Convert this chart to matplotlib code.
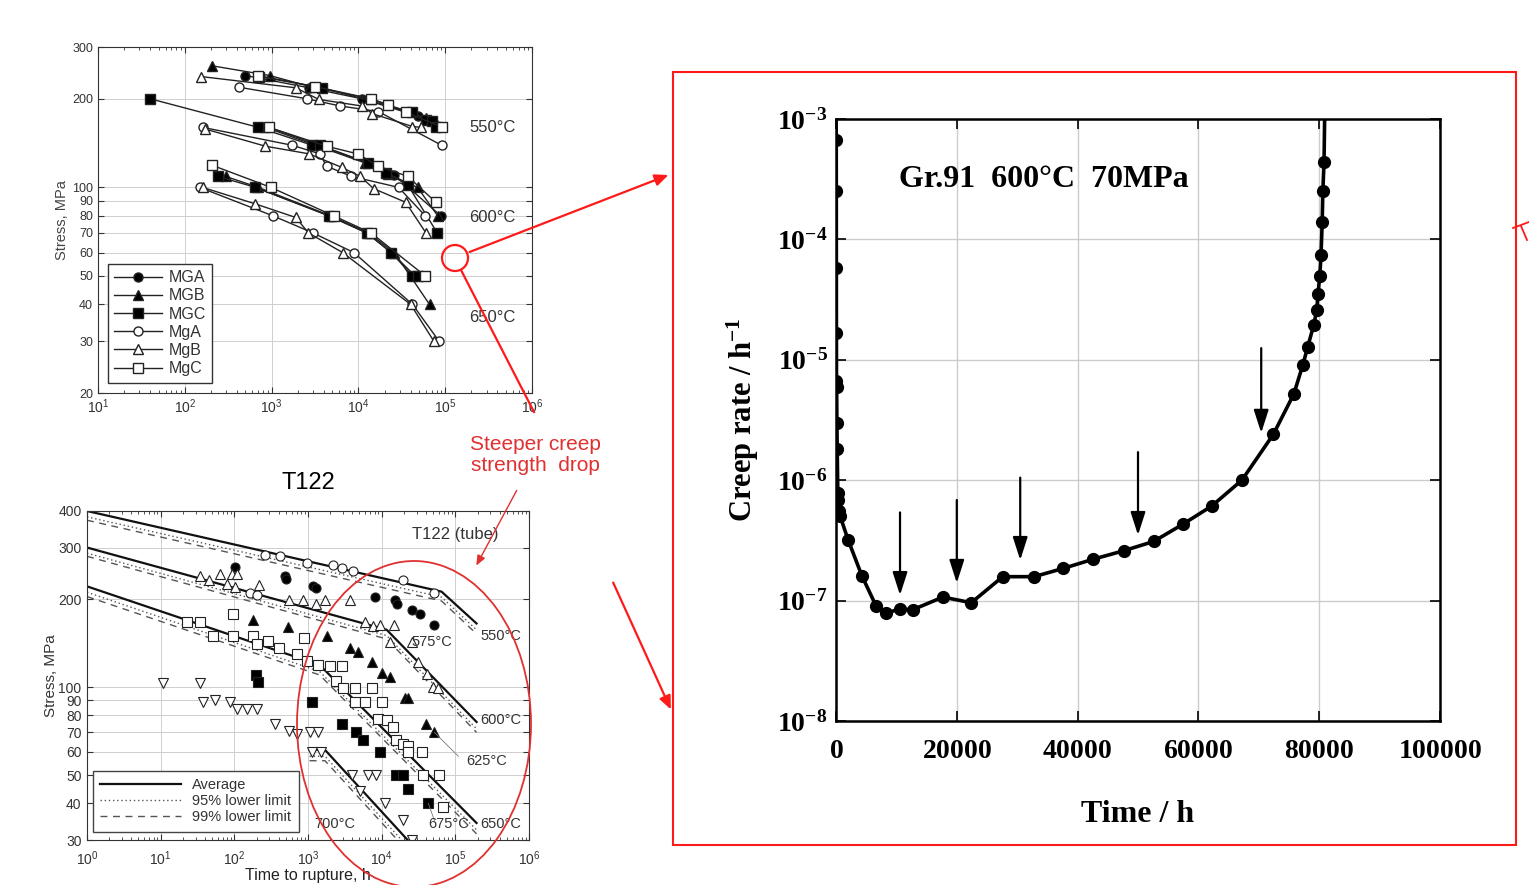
import numpy as np
import matplotlib
matplotlib.use("Agg")
from matplotlib import pyplot as plt
from matplotlib.lines import Line2D
from matplotlib.patches import Rectangle, Ellipse, FancyArrowPatch
from matplotlib.ticker import LogLocator, NullFormatter

plt.rcParams['font.family'] = ['Liberation Sans', 'DejaVu Sans']
plt.rcParams['mathtext.fontset'] = 'custom'
plt.rcParams['mathtext.rm'] = 'Liberation Sans'
plt.rcParams['mathtext.it'] = 'Liberation Sans:italic'
plt.rcParams['mathtext.bf'] = 'Liberation Serif:bold'

W, H = 1529, 885

# ---------------- top-left: stress vs rupture time (MG / Mg) ----------------
temps_top = [550, 600, 650]
MGA_T = [[500, 2700, 11000, 48000], [930, 3500, 13000, 26000, 35000, 89000], [650, 4600, 12500, 24000, 45000]]
MGA_S = [[240, 218, 200, 175], [160, 139, 121, 110, 102, 80], [100, 80, 70, 60, 50]]
MGB_T = [[205, 950, 2800, 14000, 60000, 80000], [850, 3200, 12000, 22000, 48000, 82000], [295, 700, 4800, 13000, 26000, 66000]]
MGB_S = [[259, 240, 220, 200, 172, 163], [160, 139, 121, 111, 100, 80], [109, 100, 80, 70, 60, 40]]
MGC_T = [[710, 3800, 42000, 60000, 71000, 78000], [40, 700, 2950, 3600, 13000, 21000, 37000, 81000], [240, 650, 4600, 12500, 24000, 42000, 48000]]
MGC_S = [[238, 218, 180, 170, 168, 160], [200, 160, 139, 139, 121, 112, 102, 70], [109, 100, 80, 70, 60, 50, 50]]
MgA_T = [[420, 2570, 6200, 17000, 91000], [160, 1730, 3600, 4300, 8300, 29000, 59000], [148, 1040, 3000, 8900, 42000, 85000]]
MgA_S = [[219, 200, 189, 181, 139], [160, 139, 130, 118, 109, 100, 80], [100, 80, 70, 60, 40, 30]]
MgB_T = [[155, 1900, 3500, 11000, 14500, 42000, 52000], [170, 850, 2700, 6400, 10500, 15000, 35000, 60000], [160, 640, 1900, 2660, 6600, 40000, 74000]]
MgB_S = [[238, 218, 199, 189, 178, 161, 160], [158, 138, 130, 117, 109, 99, 89, 70], [100, 88, 79, 70, 60, 40, 30]]
MgC_T = [[700, 3200, 14000, 22000, 35000, 93000], [930, 4300, 9800, 17000, 37000, 78000], [205, 980, 5200, 14000, 59000]]
MgC_S = [[240, 220, 200, 190, 180, 160], [160, 138, 130, 118, 109, 89], [119, 100, 80, 70, 50]]

# ---------------- bottom-left: T122 ----------------
AVG_T = [[1, 65000, 194000], [1, 11700, 194000], [1, 1440, 194000], [1050, 1700, 22500]]
AVG_S = [[400, 212, 165], [300, 157, 76], [221, 119, 34.3], [61, 61, 30]]
L95_S = [[382, 203, 157], [287, 150, 72], [211, 113, 32.5], [58, 58, 28.5]]
L99_S = [[372, 197, 152], [280, 146, 70], [204, 110, 31.5], [56, 56, 27.5]]
OC_T = [162, 200, 263, 420, 960, 2200, 2850, 4100, 19600, 52000]
OC_S = [210, 207, 284, 280, 265, 262, 256, 250, 232, 210]
FC_T = [102, 490, 500, 1180, 1270, 8100, 15000, 16000, 25500, 33000, 52000]
FC_S = [258, 240, 235, 221, 218, 203, 198, 193, 183, 178, 163]
OT_T = [34, 45, 64, 92, 108, 79, 102, 213, 560, 860, 1300, 1700, 3700, 5900, 7700, 9500,
        14500, 12900, 25500, 31000, 41000, 50000, 58000]
OT_S = [240, 233, 243, 243, 243, 226, 220, 224, 198, 198, 193, 198, 198, 167, 162, 163,
        163, 143, 143, 122, 111, 100, 99]
OS_T = [23, 34, 52, 97, 181, 200, 290, 400, 700, 960, 880, 97, 1370, 1980, 2850, 2400, 2970,
        4300, 7300, 4300, 5900, 10000, 9000, 12000, 14300, 15800, 19400, 23000, 23000, 35000,
        36000, 60000, 68000]
OS_S = [167, 167, 150, 150, 149, 140, 144, 136, 130, 123, 147, 178, 119, 118, 118, 105, 99,
        99, 99, 89, 89, 89, 78, 77, 73, 66, 64, 63, 60, 60, 50, 50, 39]
FT_T = [181, 540, 1800, 3700, 4800, 7300, 10200, 12900, 21000, 23000, 40000, 52000]
FT_S = [170, 160, 150, 136, 132, 122, 112, 108, 92, 92, 75, 70]
FS_T = [198, 210, 1120, 2900, 4500, 5500, 9600, 15600, 19500, 23000, 43000]
FS_S = [110, 104, 89, 75, 70, 66, 60, 50, 50, 45, 40]
IT_T = [10.7, 34, 38, 55, 88, 108, 148, 201, 360, 560, 700, 1060, 1370, 1130, 1520, 3900,
        6500, 8400, 5100, 11000, 19500, 25500]
IT_S = [103, 103, 89, 90, 89, 84, 84, 84, 75, 71, 69, 70, 70, 60, 60, 50, 50, 50, 44, 40, 35, 30]

# ---------------- right: Gr.91 creep rate ----------------
CR_T = [40, 50, 60, 70, 80, 100, 150, 200, 300, 400, 500, 700, 2000, 4300, 6600, 8300, 10600,
        12700, 17700, 22400, 27600, 32800, 37600, 42500, 47700, 52600, 57400, 62200, 67200,
        72400, 75800, 77300, 78100, 79100, 79600, 79800, 80100, 80300, 80500, 80600, 80800]
CR_R = [6.7e-4, 2.5e-4, 5.8e-5, 1.66e-5, 6.7e-6, 6.0e-6, 3.0e-6, 1.8e-6, 7.9e-7, 6.9e-7, 5.5e-7,
        5.0e-7, 3.2e-7, 1.6e-7, 9.1e-8, 7.9e-8, 8.5e-8, 8.4e-8, 1.07e-7, 9.6e-8, 1.58e-7,
        1.58e-7, 1.85e-7, 2.2e-7, 2.6e-7, 3.1e-7, 4.3e-7, 6.1e-7, 1e-6, 2.4e-6, 5.2e-6, 9.1e-6,
        1.28e-5, 1.95e-5, 2.6e-5, 3.5e-5, 5e-5, 7.4e-5, 1.4e-4, 2.5e-4, 4.4e-4]
LINE_START = (0, 1e-3)
LINE_END = (80900, 1e-3)
ARROW_T = [10600, 20000, 30500, 50000, 70400]
ARROW_TAIL = [5.4e-7, 6.85e-7, 1.05e-6, 1.71e-6, 1.25e-5]
ARROW_TIP = [1.11e-7, 1.4e-7, 2.17e-7, 3.5e-7, 2.47e-6]


def px(x, y):
    return (x / W, 1 - y / H)


def style_log_axes(ax, yticks):
    ax.set_xscale('log')
    ax.set_yscale('log')
    ax.set_yticks(yticks, [str(v) for v in yticks])
    ax.yaxis.set_minor_locator(plt.NullLocator())
    ax.xaxis.set_minor_locator(LogLocator(base=10, subs=np.arange(2, 10)))
    ax.xaxis.set_minor_formatter(NullFormatter())
    ax.tick_params(which='both', direction='in', top=True, right=True,
                   labelcolor='#333', color='#333')
    ax.tick_params(axis='y', labelsize=9)
    ax.tick_params(axis='x', labelsize=10)
    ax.tick_params(which='major', length=4)
    ax.tick_params(which='minor', length=2.5)
    ax.grid(True, which='major', color='#cfcfcf', lw=0.7)
    for sp in ax.spines.values():
        sp.set_color('#333')


fig = plt.figure(figsize=(15.29, 8.85), dpi=100)

# ---------- top-left ----------
ax1 = fig.add_axes([98 / W, 1 - 393 / H, 434 / W, 346 / H])
series = [('MGA', MGA_T, MGA_S, 'o', 'k'), ('MGB', MGB_T, MGB_S, '^', 'k'),
          ('MGC', MGC_T, MGC_S, 's', 'k'), ('MgA', MgA_T, MgA_S, 'o', 'w'),
          ('MgB', MgB_T, MgB_S, '^', 'w'), ('MgC', MgC_T, MgC_S, 's', 'w')]
for name, ts, ss, mk, fc in series:
    for i in range(len(temps_top)):
        ax1.plot(ts[i], ss[i], color='#222', lw=1, marker=mk, ms=6.5, mfc=fc, mec='#222',
                 mew=1, label=name if i == 0 else None)
style_log_axes(ax1, [20, 30, 40, 50, 60, 70, 80, 90, 100, 200, 300])
ax1.set_xlim(10, 1e6)
ax1.set_ylim(20, 300)
ax1.set_ylabel('Stress, MPa', fontsize=10.5, color='#444', labelpad=2)
for t, y in zip(temps_top, [160, 79, 36]):
    ax1.text(1.9e5, y, f'{t}°C', fontsize=12, color='#333', va='center')
leg1 = ax1.legend(loc='lower left', bbox_to_anchor=(0.023, 0.03), borderaxespad=0,
                  fontsize=11.5, handlelength=3, fancybox=False, framealpha=1,
                  edgecolor='#333', labelspacing=0.2, handletextpad=0.4, borderpad=0.4)
for txt in leg1.get_texts():
    txt.set_color('#333')

# ---------- bottom-left ----------
ax2 = fig.add_axes([87 / W, 1 - 840 / H, 442 / W, 329 / H])
for i in range(len(AVG_T)):
    ax2.plot(AVG_T[i], AVG_S[i], color='#111', lw=1.6, label='Average' if i == 0 else None)
    ax2.plot(AVG_T[i], L95_S[i], color='#555', lw=1, ls=(0, (1, 2)),
             label='95% lower limit' if i == 0 else None)
    ax2.plot(AVG_T[i], L99_S[i], color='#555', lw=1, ls=(0, (5, 4)),
             label='99% lower limit' if i == 0 else None)
pts = [(OC_T, OC_S, 'o', 'w'), (FC_T, FC_S, 'o', 'k'), (OT_T, OT_S, '^', 'w'),
       (OS_T, OS_S, 's', 'w'), (FT_T, FT_S, '^', 'k'), (FS_T, FS_S, 's', 'k'),
       (IT_T, IT_S, 'v', 'w')]
for t, s, mk, fc in pts:
    ax2.plot(t, s, ls='none', marker=mk, ms=6.5, mfc=fc, mec='#222', mew=0.8)
style_log_axes(ax2, [30, 40, 50, 60, 70, 80, 90, 100, 200, 300, 400])
ax2.tick_params(axis='y', labelsize=10, pad=4)
ax2.tick_params(axis='x', pad=7)
ax2.set_xlim(1, 1e6)
ax2.set_ylim(30, 400)
ax2.set_xlabel('Time to rupture, h', fontsize=11.5, color='#222', labelpad=0)
ax2.set_ylabel('Stress, MPa', fontsize=11, color='#333', labelpad=0)
ax2.set_title('T122', fontsize=17, pad=16)
ax2.text(0.735, 0.93, 'T122 (tube)', transform=ax2.transAxes, fontsize=12, color='#333',
         va='center')
for (tx, sy, lab) in [(2.2e5, 150, '550°C'), (2.2e5, 77, '600°C'), (2.2e5, 34, '650°C'),
                      (2.5e4, 143, '575°C'), (1.4e5, 56, '625°C'), (4.3e4, 34, '675°C'),
                      (1.2e3, 34, '700°C')]:
    ax2.text(tx, sy, lab, fontsize=10.5, color='#333', va='center')
ax2.plot([52000, 110000], [70, 58], color='#777', lw=0.6)
ax2.plot([43000, 52000], [40, 35], color='#777', lw=0.6)
leg2 = ax2.legend(loc='lower left', bbox_to_anchor=(0.014, 0.025), borderaxespad=0,
                  fontsize=10.5, handlelength=5.5, fancybox=False, framealpha=1,
                  edgecolor='#444', labelspacing=0.15, borderpad=0.5)
for txt in leg2.get_texts():
    txt.set_color('#333')

# ---------- right ----------
ax3 = fig.add_axes([836 / W, 1 - 721 / H, 604 / W, 602 / H])
ax3.plot([LINE_START[0]] + CR_T + [LINE_END[0]], [LINE_START[1]] + CR_R + [LINE_END[1]],
         color='k', lw=2.6)
ax3.plot(CR_T, CR_R, ls='none', marker='o', ms=8.5, color='k')
for t, a, b in zip(ARROW_T, ARROW_TAIL, ARROW_TIP):
    ax3.annotate('', xy=(t, b), xytext=(t, a),
                 arrowprops=dict(arrowstyle='-|>,head_length=1.4,head_width=0.45',
                                 color='k', lw=1.6, shrinkA=0, shrinkB=0))
ax3.set_yscale('log')
ax3.set_xlim(0, 100000)
ax3.set_ylim(1e-8, 1e-3)
ax3.set_xticks(range(0, 100001, 20000), [f'$\\mathbf{{{v}}}$' for v in range(0, 100001, 20000)])
ax3.set_yticks([10.0 ** e for e in range(-8, -2)],
               [f'$\\mathbf{{10^{{{e}}}}}$' for e in range(-8, -2)])
ax3.yaxis.set_minor_locator(plt.NullLocator())
ax3.tick_params(direction='in', top=True, right=True, length=7, width=1.2, labelsize=20)
ax3.tick_params(axis='x', pad=12)
ax3.tick_params(axis='y', pad=6)
ax3.grid(True, color='#cccccc', lw=1)
for sp in ax3.spines.values():
    sp.set_linewidth(1.8)
ax3.set_xlabel('Time / h', fontsize=23, fontweight='bold', family='Liberation Serif', labelpad=26)
ax3.set_ylabel('Creep rate / h$\\mathbf{^{-1}}$', fontsize=22, fontweight='bold',
               family='Liberation Serif', labelpad=12)
ax3.text(0.105, 0.887, 'Gr.91  600°C  70MPa', transform=ax3.transAxes, fontsize=23,
         fontweight='bold', family='Liberation Serif')

# ---------- red annotations ----------
red = '#ff1a1a'
fig.add_artist(Rectangle(px(673, 845), 843 / W, 773 / H, transform=fig.transFigure,
                         fill=False, ec=red, lw=1.5))
fig.add_artist(Ellipse(px(455, 258), 26 / W, 26 / H, transform=fig.transFigure,
                       fill=False, ec=red, lw=1.6))
fig.add_artist(FancyArrowPatch(px(467, 253), px(671, 174), transform=fig.transFigure,
                               arrowstyle='-|>,head_length=8,head_width=3.5', color=red, lw=1.6))
fig.add_artist(Line2D([461 / W, 534 / W], [1 - 270 / H, 1 - 412 / H], transform=fig.transFigure,
                      color=red, lw=1.6))
fig.add_artist(FancyArrowPatch(px(612, 580), px(672, 712), transform=fig.transFigure,
                               arrowstyle='-|>,head_length=8,head_width=3.5', color=red, lw=1.6))
fig.add_artist(Ellipse(px(414, 724), 234 / W, 326 / H, transform=fig.transFigure,
                       fill=False, ec='#e03030', lw=1.3))
fig.add_artist(FancyArrowPatch(px(518, 488), px(475, 568), transform=fig.transFigure,
                               arrowstyle='-|>,head_length=6,head_width=2.5', color='#e03030',
                               lw=1))
fig.text(535 / W, 1 - 455 / H, 'Steeper creep\nstrength  drop', color='#e03030', fontsize=15,
         ha='center', va='center', linespacing=1.1)
fig.add_artist(Line2D([1513 / W, 1529 / W], [1 - 228 / H, 1 - 222 / H], transform=fig.transFigure,
                      color=red, lw=1.3))
fig.add_artist(Line2D([1521 / W, 1527 / W], [1 - 226 / H, 1 - 240 / H], transform=fig.transFigure,
                      color=red, lw=1.3))

fig.savefig('out.png', dpi=100)
